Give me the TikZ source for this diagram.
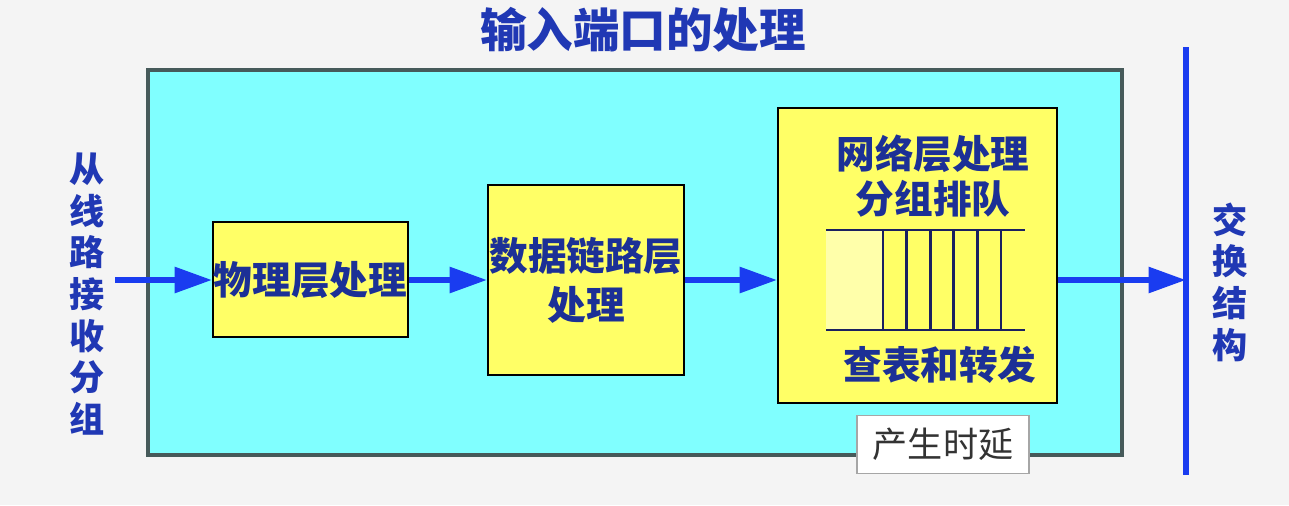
\documentclass[tikz,border=0pt]{standalone}
\usepackage{fontspec}
\newfontfamily\cjk{Noto Sans CJK SC}
\usetikzlibrary{arrows.meta}
\definecolor{pagebg}{RGB}{244,244,244}
\definecolor{portcyan}{RGB}{128,255,255}
\definecolor{portedge}{RGB}{70,90,90}
\definecolor{boxyellow}{RGB}{255,255,102}
\definecolor{palequeue}{RGB}{255,255,170}
\definecolor{textnavy}{RGB}{28,48,150}
\definecolor{queuenavy}{RGB}{26,32,96}
\definecolor{titleblue}{RGB}{32,56,180}
\definecolor{flowblue}{RGB}{26,60,240}
\tikzset{
  stage/.style={draw=black, line width=1.1pt, fill=boxyellow, text=textnavy, align=center, inner sep=0pt,
    font=\cjk\bfseries\fontsize{22}{28}\selectfont},
  label/.style={text=textnavy, align=center, inner sep=0pt, font=\cjk\bfseries\fontsize{22}{25.5}\selectfont},
  side/.style={text=titleblue, align=center, inner sep=0pt, font=\cjk\bfseries\fontsize{20}{23.7}\selectfont},
  flow/.style={draw=flowblue, line width=3.4pt, -{Triangle[length=0.75cm,width=0.5cm]}},
  qline/.style={draw=queuenavy, line width=1.6pt}
}
\begin{document}
\begin{tikzpicture}[x=0.02cm,y=-0.02cm]
  \fill[pagebg] (0,0) rectangle (1289,505);
  \useasboundingbox (0,0) rectangle (1289,505);
  \node[text=titleblue, font=\cjk\bfseries\fontsize{26.5}{30}\selectfont, inner sep=0pt] (title) at (643,30) {输入端口的处理};
  \node[draw=portedge, line width=2pt, fill=portcyan, minimum width=19.48cm, minimum height=7.7cm] (port) at (635,262.5) {};
  \node[stage, minimum width=3.9cm, minimum height=2.3cm] (phy) at (310.5,279.5) {物理层处理};
  \node[stage, minimum width=3.92cm, minimum height=3.8cm] (link) at (586,280) {数据链路层\\处理};
  \node[stage, minimum width=5.58cm, minimum height=5.9cm] (net) at (917.5,255.5) {};
  \node[label] (nettext) at (933,176) {网络层处理\\分组排队};
  \fill[palequeue] (826,230) rectangle (883,330);
  \fill[boxyellow] (883,230) rectangle (1025,330);
  \draw[qline] (826,230) -- (1025,230) (826,330) -- (1025,330);
  \foreach \i in {0,...,5}
    \draw[qline] (883+23.6*\i,230) -- ++(0,100);
  \node[label] (lookup) at (940,365) {查表和转发};
  \node[draw=gray!70, line width=0.8pt, fill=white, text=black!80, minimum width=3.44cm, minimum height=1.16cm,
    font=\cjk\fontsize{20}{24}\selectfont] (delay) at (943,444.5) {产生时延};
  \node[side] (src) at (87,294) {从\\线\\路\\接\\收\\分\\组};
  \node[side] (fabric) at (1230,282) {交\\换\\结\\构};
  \coordinate (in) at (115,280);
  \coordinate (bartop) at (1186,47);
  \coordinate (barbot) at (1186,475);
  \draw[flowblue, line width=3.4pt] (bartop) -- (barbot);
  \draw[flow] (in) -- (phy.west |- in);
  \draw[flow] (phy.east |- in) -- (link.west |- in);
  \draw[flow] (link.east |- in) -- (net.west |- in);
  \draw[flow] (net.east |- in) -- (bartop |- in);
\end{tikzpicture}
\end{document}
